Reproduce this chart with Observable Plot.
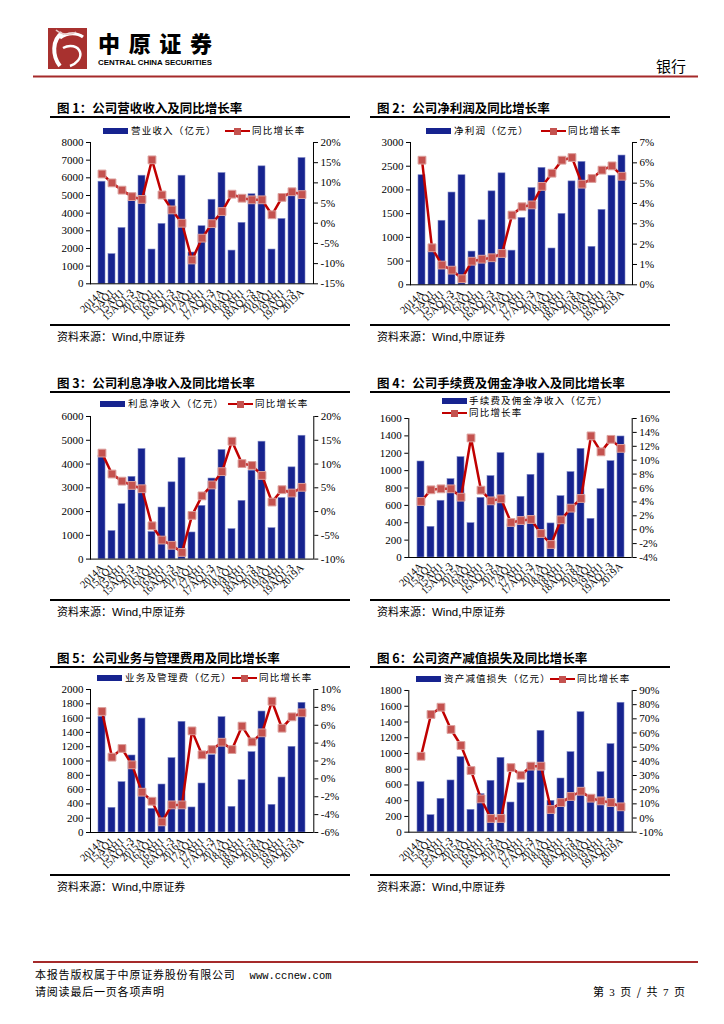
<!DOCTYPE html>
<html><head><meta charset="utf-8">
<script src="https://cdn.jsdelivr.net/npm/d3@7"></script>
<script src="https://cdn.jsdelivr.net/npm/@observablehq/plot@0.6"></script>
<style>
body{margin:0;background:#fff;}
#page{position:relative;width:724px;height:1024px;overflow:hidden;font-family:"Noto Sans CJK SC",sans-serif;color:#000;background:#fff;}
.a{position:absolute;white-space:nowrap;line-height:1;}
.title{font-size:12.5px;font-weight:bold;}
.leg{font-size:9.5px;letter-spacing:1.2px;}
.src{font-size:11px;}
.src span{font-family:"Liberation Sans",Arial,sans-serif;font-size:11.5px;}
svg{overflow:visible;}
</style></head><body><div id="page"></div>
<script>
// ---------- data ----------
const categories = ["2014A","15AQ1","15AH1","15AQ1-3","2015A","16AQ1","16AH1","16AQ1-3","2016A","17AQ1","17AH1","17AQ1-3","2017A","18AQ1","18AH1","18AQ1-3","2018A","19AQ1","19AH1","19AQ1-3","2019A"];

const revenue       = [5780,1680,3160,4700,6120,1940,3390,4760,6120,1770,3260,4760,6270,1880,3450,5070,6650,1940,3670,5100,7120];
const revenueGrowth = [12.2,10.0,8.2,6.6,5.9,15.7,7.0,3.3,0.0,-9.1,-3.7,-0.1,2.9,7.2,6.2,5.8,5.8,2.1,6.4,7.8,7.1];

const netProfit       = [2310,690,1350,1945,2310,700,1360,1970,2350,720,1410,2040,2465,765,1495,2180,2590,800,1580,2300,2725];
const netProfitGrowth = [6.13,1.82,0.97,0.72,0.30,1.16,1.26,1.33,1.54,3.43,3.84,3.93,4.84,5.49,6.13,6.26,4.95,5.23,5.64,5.85,5.34];

const interestIncome       = [4350,1180,2310,3460,4630,1140,2170,3230,4250,1120,2240,3390,4590,1260,2450,3720,4940,1300,2570,3860,5190];
const interestIncomeGrowth = [12.3,7.9,6.4,5.5,4.8,-3.0,-6.0,-7.1,-8.6,-0.8,3.3,5.6,8.4,14.8,10.1,9.7,7.6,2.0,4.6,3.9,5.1];

const feeIncome       = [1105,353,653,902,1155,395,687,937,1202,380,699,952,1198,392,706,983,1251,445,787,1109,1393];
const feeIncomeGrowth = [4.06,5.74,5.88,5.88,4.68,13.2,5.69,4.15,4.44,1.04,1.32,1.47,-0.55,-2.13,1.42,3.10,4.49,13.5,11.2,13.0,11.7];

const opex       = [1618,345,704,1077,1594,331,671,1040,1548,350,685,1082,1613,359,732,1124,1692,387,769,1198,1814];
const opexGrowth = [7.54,2.43,3.40,1.57,-1.49,-2.50,-4.81,-2.91,-2.91,5.37,2.69,3.28,4.10,3.28,5.90,4.14,5.15,8.69,5.67,6.94,7.39];

const impairment       = [636,216,424,657,953,284,483,653,945,377,623,877,1288,398,682,1017,1525,430,763,1119,1644];
const impairmentGrowth = [43.6,73.1,78.2,62.5,51.2,33.5,13.5,-0.3,-0.3,35.6,30.2,36.6,36.6,6.0,10.9,15.2,18.9,14.0,12.1,10.9,7.9];

const ticksRevenue  = [0,1000,2000,3000,4000,5000,6000,7000,8000];
const ticksRevenueG = [-15,-10,-5,0,5,10,15,20];
const ticksProfit   = [0,500,1000,1500,2000,2500,3000];
const ticksProfitG  = [0,1,2,3,4,5,6,7];
const ticksNII      = [0,1000,2000,3000,4000,5000,6000];
const ticksNIIG     = [-10,-5,0,5,10,15,20];
const ticksFee      = [0,200,400,600,800,1000,1200,1400,1600];
const ticksFeeG     = [-4,-2,0,2,4,6,8,10,12,14,16];
const ticksOpex     = [0,200,400,600,800,1000,1200,1400,1600,1800,2000];
const ticksOpexG    = [-6,-4,-2,0,2,4,6,8,10];
const ticksImp      = [0,200,400,600,800,1000,1200,1400,1600,1800];
const ticksImpG     = [-10,0,10,20,30,40,50,60,70,80,90];

const titles = ["图 1：公司营收收入及同比增长率","图 2：公司净利润及同比增长率","图 3：公司利息净收入及同比增长率","图 4：公司手续费及佣金净收入及同比增长率","图 5：公司业务与管理费用及同比增长率","图 6：公司资产减值损失及同比增长率"];
const barNames = ["营业收入（亿元）","净利润（亿元）","利息净收入（亿元）","手续费及佣金净收入（亿元）","业务及管理费（亿元）","资产减值损失（亿元）"];
const lineName = "同比增长率";
const sourceText = "资料来源：";

const BAR = "#16238f", LINE = "#c00000", MARK = "#c4524f";

// ---------- layout ----------
const page = document.getElementById("page");
function el(tag, cls, css, html){const e=document.createElement(tag); if(cls) e.className=cls; Object.assign(e.style, css||{}); if(html!=null) e.innerHTML=html; page.appendChild(e); return e;}

// header
el("div","a",{left:"0",top:"0",width:"724px",height:"80px"},
 `<svg width="724" height="80">
   <rect x="48" y="28" width="39" height="41" fill="#a8312f"/>
   <path d="M62 33 C52 40 52 56 60 66" stroke="#fff" stroke-width="4" fill="none"/>
   <path d="M60 38 C68 32 78 33 83 37" stroke="#fff" stroke-width="3" fill="none"/>
   <path d="M63 48 C70 44 78 46 80 52 C82 58 76 64 70 66" stroke="#fff" stroke-width="2.5" fill="none"/>
   <path d="M56 30 C60 34 70 36 76 32" stroke="#e8c7c5" stroke-width="1.5" fill="none"/>
   <text x="98" y="52" font-family="Noto Sans CJK SC" font-weight="900" font-size="22" textLength="114" lengthAdjust="spacing">中原证券</text>
   <text x="98" y="65" font-family="Liberation Sans" font-weight="bold" font-size="7.5" textLength="114" lengthAdjust="spacingAndGlyphs">CENTRAL CHINA SECURITIES</text>
   <text x="686" y="72" text-anchor="end" font-family="Noto Sans CJK SC" font-size="15">银行</text>
   <rect x="33" y="75.5" width="665" height="2" fill="#a52a2a"/>
 </svg>`);

// footer
el("div","a",{left:"33px",top:"961px",width:"665px",height:"2px",background:"#a52a2a"});
el("div","a",{left:"35px",top:"969px",fontSize:"11px",letterSpacing:"0.8px"},'本报告版权属于中原证券股份有限公司<span style="font-family:\'Liberation Mono\',monospace;font-size:10.5px;letter-spacing:0;margin-left:14px">www.ccnew.com</span>');
el("div","a",{left:"35px",top:"986px",fontSize:"11px",letterSpacing:"0.8px"},"请阅读最后一页各项声明");
el("div","a",{left:"573px",top:"986px",width:"112px",textAlign:"right",fontSize:"11px",wordSpacing:"3px"},'第 <span style="font-family:\'Liberation Serif\'">3</span> 页 / 共 <span style="font-family:\'Liberation Serif\'">7</span> 页');

const panels = [
  {x0:50, y0:95, bars:revenue, growth:revenueGrowth, yt:ticksRevenue, gt:ticksRevenueG, L:90, R:313, T:141.7, B:283,
   leg:[{type:"bar",x:103,y:131},{type:"text",x:131,y:131,i:0},{type:"line",x:225,y:131},{type:"ltext",x:252,y:131}]},
  {x0:370, y0:95, bars:netProfit, growth:netProfitGrowth, yt:ticksProfit, gt:ticksProfitG, L:410, R:632, T:141.7, B:284,
   leg:[{type:"bar",x:426,y:131},{type:"text",x:454,y:131,i:1},{type:"line",x:541,y:131},{type:"ltext",x:568,y:131}]},
  {x0:50, y0:370, bars:interestIncome, growth:interestIncomeGrowth, yt:ticksNII, gt:ticksNIIG, L:90, R:313.3, T:415.7, B:558.3,
   leg:[{type:"bar",x:100,y:404},{type:"text",x:128,y:404,i:2},{type:"line",x:228,y:404},{type:"ltext",x:255,y:404}]},
  {x0:370, y0:370, bars:feeIncome, growth:feeIncomeGrowth, yt:ticksFee, gt:ticksFeeG, L:408.3, R:631.7, T:417.7, B:556.7,
   leg:[{type:"bar",x:442,y:401},{type:"text",x:469,y:401,i:3},{type:"line",x:442,y:413},{type:"ltext",x:469,y:413}]},
  {x0:50, y0:645, bars:opex, growth:opexGrowth, yt:ticksOpex, gt:ticksOpexG, L:90, R:313.3, T:689.3, B:832.3,
   leg:[{type:"bar",x:97,y:678},{type:"text",x:125,y:678,i:4},{type:"line",x:232,y:678},{type:"ltext",x:259,y:678}]},
  {x0:370, y0:645, bars:impairment, growth:impairmentGrowth, yt:ticksImp, gt:ticksImpG, L:408.3, R:631.7, T:690, B:831.7,
   leg:[{type:"bar",x:416,y:679},{type:"text",x:444,y:679,i:5},{type:"line",x:550,y:679},{type:"ltext",x:577,y:679}]}
];

function makeChart(p){
  const yMax = p.yt[p.yt.length-1];
  const gMin = p.gt[0], gMax = p.gt[p.gt.length-1];
  const toY = g => (g-gMin)/(gMax-gMin)*yMax;
  const fromY = y => gMin + y/yMax*(gMax-gMin);
  const data = categories.map((k,i)=>({k, v:p.bars[i], g:p.growth[i]}));
  const mt = 7, mb = 46;
  return Plot.plot({
    width:300, height:(p.B-p.T)+mt+mb,
    marginLeft:p.L-p.x0, marginRight:p.x0+300-p.R, marginTop:mt, marginBottom:mb,
    style:{fontFamily:"'Liberation Serif',serif", fontSize:"11px", color:"#000", background:"transparent", overflow:"visible"},
    x:{domain:categories, paddingInner:0.35, paddingOuter:0.2, axis:null},
    y:{domain:[0,yMax], axis:null},
    marks:[
      Plot.barY(data,{x:"k", y:"v", fill:BAR, stroke:"#7d86c4", strokeWidth:0.6}),
      Plot.ruleY([0],{stroke:"#000", strokeWidth:1}),
      Plot.frame({anchor:"left", stroke:"#000"}),
      Plot.frame({anchor:"right", stroke:"#000"}),
      Plot.axisY(p.yt,{anchor:"left", tickSize:4, tickPadding:3, label:null, tickFormat:d=>String(d)}),
      Plot.axisY(p.gt.map(toY),{anchor:"right", tickSize:4, tickPadding:3, label:null, tickFormat:y=>Math.round(fromY(y))+"%"}),
      Plot.axisX({tickRotate:-45, tickSize:0, tickPadding:7, label:null, fontSize:10.5}),
      Plot.line(data,{x:"k", y:d=>toY(d.g), stroke:LINE, strokeWidth:2.5}),
      Plot.dot(data,{x:"k", y:d=>toY(d.g), symbol:"square", r:4.4, fill:MARK, stroke:"#dca09d", strokeWidth:1})
    ]
  });
}

panels.forEach((p,idx)=>{
  const dy = p.y0 - 95;
  el("div","a title",{left:(p.x0+7)+"px", top:(102+dy)+"px"}, titles[idx]);
  el("div","a",{left:p.x0+"px", top:(115.5+dy)+"px", width:"300px", height:"2px", background:"#000"});
  p.leg.forEach(l=>{
    if(l.type==="bar") el("div","a",{left:l.x+"px", top:(l.y-3)+"px", width:"25px", height:"6px", background:BAR});
    if(l.type==="line"){
      el("div","a",{left:l.x+"px", top:(l.y-1.2)+"px", width:"25px", height:"2.4px", background:LINE});
      el("div","a",{left:(l.x+9)+"px", top:(l.y-3.5)+"px", width:"7px", height:"7px", background:MARK});
    }
    if(l.type==="text") el("div","a leg",{left:l.x+"px", top:(l.y-5.5)+"px"}, barNames[l.i]);
    if(l.type==="ltext") el("div","a leg",{left:l.x+"px", top:(l.y-5.5)+"px"}, lineName);
  });
  const svgWrap = el("div","a",{left:p.x0+"px", top:(p.T-7)+"px"});
  svgWrap.appendChild(makeChart(p));
  el("div","a",{left:p.x0+"px", top:(324+dy)+"px", width:"300px", height:"2px", background:"#000"});
  el("div","a src",{left:(p.x0+7)+"px", top:(331+dy)+"px"}, sourceText+'<span>Wind</span>,中原证券');
});
</script></body></html>
